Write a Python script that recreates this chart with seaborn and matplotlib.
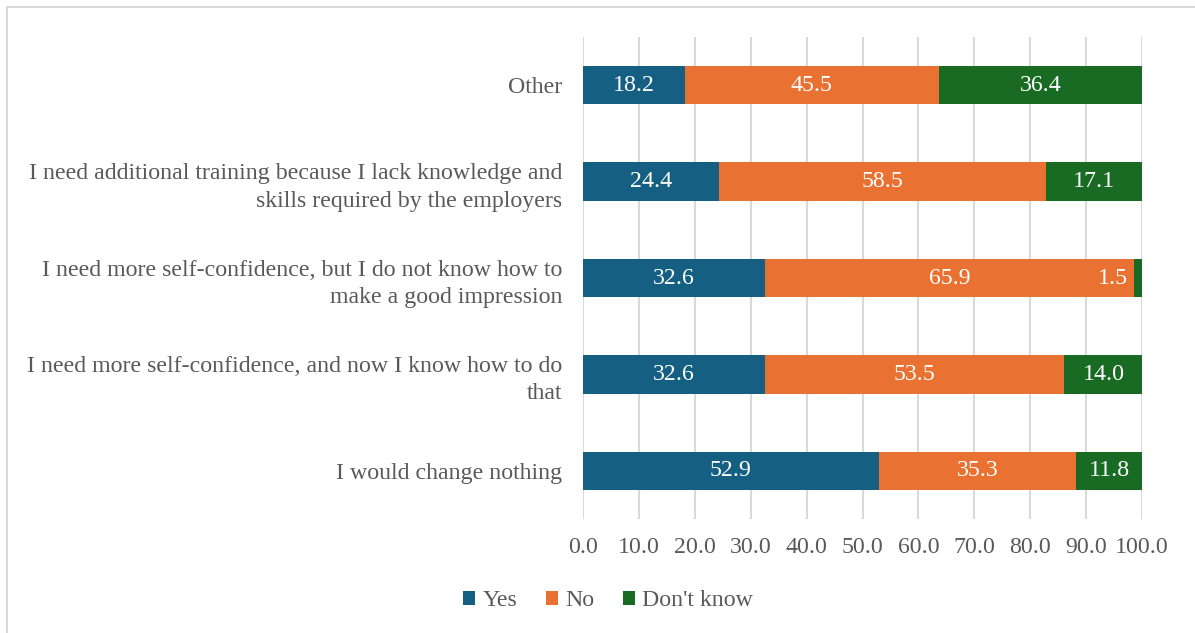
import matplotlib
matplotlib.use("Agg")
import matplotlib.pyplot as plt
from matplotlib.patches import Rectangle, Patch
import seaborn as sns
import pandas as pd
import numpy as np

categories = [
    "Other",
    "I need additional training because I lack knowledge and\nskills required by the employers",
    "I need more self-confidence, but I do not know how to\nmake a good impression",
    "I need more self-confidence, and now I know how to do\nthat",
    "I would change nothing",
]
yes = [18.2, 24.4, 32.6, 32.6, 52.9]
no = [45.5, 58.5, 65.9, 53.5, 35.3]
dont_know = [36.4, 17.1, 1.5, 14.0, 11.8]
series_names = ["Yes", "No", "Don't know"]
x_ticks = [0, 10, 20, 30, 40, 50, 60, 70, 80, 90, 100]

colors = {"Yes": "#156082", "No": "#E97132", "Don't know": "#196B24"}
text_gray = "#595959"
fs = 17.2

sns.set_theme(style="white")
plt.rcParams["font.family"] = ["Liberation Serif", "DejaVu Serif"]

df = pd.DataFrame({"category": categories, "Yes": yes, "No": no, "Don't know": dont_know})
df["cum_yes"] = df["Yes"]
df["cum_no"] = df["Yes"] + df["No"]
df["cum_dk"] = df["cum_no"] + df["Don't know"]

fig = plt.figure(figsize=(11.95, 6.33), dpi=100)
ax = fig.add_axes([583 / 1195, 1 - 519 / 633, (1142 - 583) / 1195, (519 - 37) / 633])

# stacked bars drawn as cumulative totals, widest first
for col, name in [("cum_dk", "Don't know"), ("cum_no", "No"), ("cum_yes", "Yes")]:
    sns.barplot(data=df, x=col, y="category", order=categories, orient="h",
                color=colors[name], width=0.4, ax=ax, linewidth=0, saturation=1)

ax.set_xlim(0, 100)
ax.set_ylim(4.5, -0.5)
ax.set_xticks(x_ticks)
ax.set_xticklabels([f"{v:.1f}" for v in x_ticks], fontsize=fs, color=text_gray)
ax.tick_params(axis="y", labelsize=fs, labelcolor=text_gray, pad=15, length=0)
ax.tick_params(axis="x", pad=13, length=0)
for lab in ax.get_yticklabels():
    lab.set_horizontalalignment("right")
    lab.set_linespacing(1.4)
ax.set_xlabel("")
ax.set_ylabel("")
ax.xaxis.grid(True, color="#D9D9D9", linewidth=1.5)
ax.set_axisbelow(True)
for s in ax.spines.values():
    s.set_visible(False)

# value labels
for i in range(len(categories)):
    lefts = [0, yes[i], yes[i] + no[i]]
    vals = [yes[i], no[i], dont_know[i]]
    for left, v in zip(lefts, vals):
        if v < 5:
            ax.text(left - 1.0, i, f"{v:.1f}", ha="right", va="center",
                    color="white", fontsize=fs)
        else:
            ax.text(left + v / 2, i, f"{v:.1f}", ha="center", va="center",
                    color="white", fontsize=fs)

handles = [Patch(facecolor=colors[n], edgecolor="none") for n in series_names]
leg = fig.legend(handles, series_names, loc="center", bbox_to_anchor=(608 / 1195, 1 - 601 / 633),
                 ncol=3, frameon=False, fontsize=fs, handlelength=0.5, handleheight=0.5,
                 handletextpad=0.3, columnspacing=1.2)
for t in leg.get_texts():
    t.set_color(text_gray)

fig.patches.append(Rectangle((7 / 1195, -0.05), 1.1, 1 - 7 / 633 + 0.05,
                             transform=fig.transFigure, fill=False,
                             edgecolor="#D9D9D9", linewidth=1.5))

fig.savefig("out.png", dpi=100)
